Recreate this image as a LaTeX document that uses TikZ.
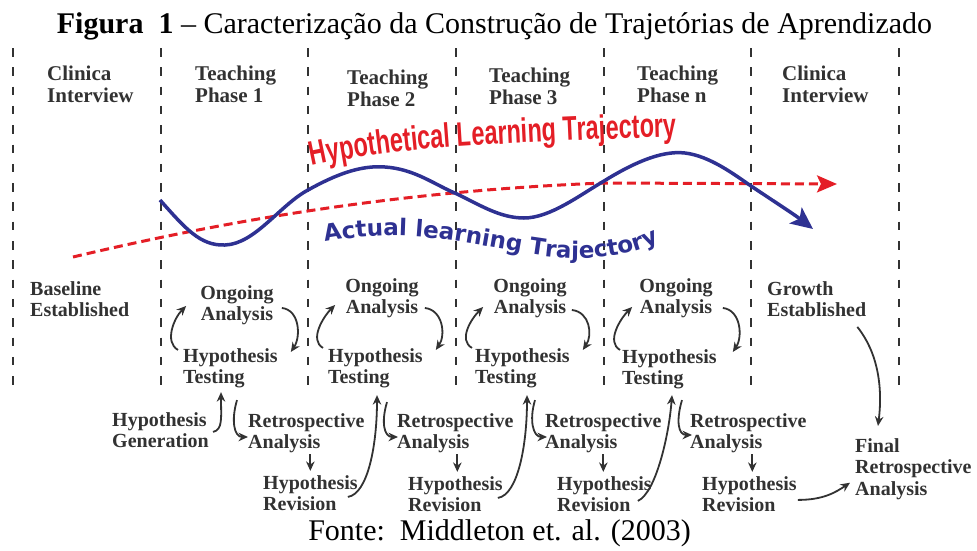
\documentclass[tikz,border=0pt]{standalone}
\usepackage{fontspec}
\setmainfont{Liberation Serif}
\newfontfamily\redfont[FakeStretch=0.69]{Liberation Sans}
\newfontfamily\bluefont{DejaVu Sans}
\usetikzlibrary{arrows.meta,decorations.text,calc}
\definecolor{tblue}{RGB}{46,49,146}
\definecolor{tred}{RGB}{228,30,38}
\definecolor{tgray}{RGB}{50,50,50}
\begin{document}
\begin{tikzpicture}[x=1pt,y=-1pt,
  vline/.style={line width=2pt, tgray, dash pattern=on 8.5pt off 10.8pt},
  head/.style={font=\fontsize{21}{22.5}\selectfont\bfseries, text=tgray, align=left, anchor=base west, inner sep=0pt},
  lbl/.style={font=\fontsize{20}{21.5}\selectfont\bfseries, text=tgray, align=left, anchor=base west, inner sep=0pt},
  lblc/.style={lbl, align=center, anchor=base},
  arr/.style={line width=1.8pt, tgray, -{Stealth[length=9.5pt,width=8.5pt]}},
  down/.style={arr, shorten <=1pt, shorten >=4pt},
]
\useasboundingbox (0,0) rectangle (977,550);

% title and source
\node[anchor=base, inner sep=0pt, font=\fontsize{30}{30}\selectfont] (title) at (494.5,33)
  {\textbf{Figura\ \ 1} – Caracterização da Construção de Trajetórias de Aprendizado};
\node[anchor=base, inner sep=0pt, font=\fontsize{30}{30}\selectfont] (fonte) at (499.5,540)
  {Fonte:\ \ Middleton et. al. (2003)};

% vertical dashed separators
\foreach \x in {13,161,308,456,604,751,899}
  \draw[vline] (\x,48) -- (\x,395);

% headers (position = baseline of last line)
\node[head] (c0) at (47,102.5) {Clinica\\Interview};
\node[head] (t1) at (195,102.5) {Teaching\\Phase 1};
\node[head] (t2) at (347,106.5) {Teaching\\Phase 2};
\node[head] (t3) at (489,104.5) {Teaching\\Phase 3};
\node[head] (tn) at (637,102.5) {Teaching\\Phase n};
\node[head] (c1) at (782,102.5) {Clinica\\Interview};

% hypothetical trajectory (red dashed)
\draw[tred, line width=3pt, dash pattern=on 9pt off 5pt,
      -{Stealth[length=20pt,width=17pt,inset=4pt]}]
  (73,257) .. controls (250,215) and (420,190) .. (604,183) -- (837,184);
% actual trajectory (blue)
\draw[tblue, line width=3.5pt, -{Stealth[length=22pt,width=20pt,inset=5pt]}]
  (160,200) .. controls (185,228) and (200,246) .. (225,245)
  .. controls (255,244) and (280,205) .. (308,190)
  .. controls (335,175) and (360,165) .. (385,167)
  .. controls (415,169) and (435,185) .. (457,194)
  .. controls (480,205) and (500,218) .. (524,218)
  .. controls (550,218) and (580,195) .. (604,181)
  .. controls (630,165) and (660,150) .. (685,153)
  .. controls (710,156) and (735,175) .. (751,186)
  .. controls (775,202) and (795,215) .. (813,229);

% curved labels
\path[decorate, decoration={text along path, text align=left,
   text={|\fontsize{34}{34}\redfont\bfseries\color{tred}|Hypothetical Learning Trajectory}}]
  (312,166) .. controls (380,151) and (450,146) .. (520,143)
  .. controls (600,139) and (650,137) .. (720,136);
\path[decorate, decoration={text along path, text align=left,
   text={|\fontsize{23}{23}\bluefont\bfseries\color{tblue}|Actual learning Trajectory}}]
  (325,242) .. controls (400,228) and (450,240) .. (530,254)
  .. controls (590,264) and (640,258) .. (690,225);

% lower labels (position = baseline of last line)
\node[lbl] (be) at (30,316.5) {Baseline\\Established};
\node[lbl] (ge) at (767,316.5) {Growth\\Established};

\node[lblc] (og1) at (237,320.5) {Ongoing\\Analysis};
\node[lbl] (ht1) at (183,383.5) {Hypothesis\\Testing};
\node[lbl] (hg) at (112,447.5) {Hypothesis\\Generation};
\node[lbl] (ra1) at (248,448.5) {Retrospective\\Analysis};
\node[lbl] (hr1) at (263,510.5) {Hypothesis\\Revision};

\node[lblc] (og2) at (382,313.5) {Ongoing\\Analysis};
\node[lbl] (ht2) at (328,383.5) {Hypothesis\\Testing};
\node[lbl] (ra2) at (397,448.5) {Retrospective\\Analysis};
\node[lbl] (hr2) at (408,511.5) {Hypothesis\\Revision};

\node[lblc] (og3) at (530,313.5) {Ongoing\\Analysis};
\node[lbl] (ht3) at (475,383.5) {Hypothesis\\Testing};
\node[lbl] (ra3) at (545,448.5) {Retrospective\\Analysis};
\node[lbl] (hr3) at (557,511.5) {Hypothesis\\Revision};

\node[lblc] (ogn) at (676,313.5) {Ongoing\\Analysis};
\node[lbl] (htn) at (622,384.5) {Hypothesis\\Testing};
\node[lbl] (ran) at (690,448.5) {Retrospective\\Analysis};
\node[lbl] (hrn) at (702,511.5) {Hypothesis\\Revision};

\node[lbl] (fr) at (855,495) {Final\\Retrospective\\Analysis};

% cycle arrows
\draw[arr] ([shift={(-5,2)}]ht1.north west) .. controls +(-14,-8) and +(-12,12) .. ([shift={(-14,1)}]og1.west);
\draw[arr] ([shift={(8,3)}]og1.east) .. controls +(18,2) and +(10,-15) .. ([shift={(13,4)}]ht1.north east);
\draw[arr] ([shift={(-5,0)}]ht2.north west) .. controls +(-14,-8) and +(-12,12) .. ([shift={(-10,7)}]og2.west);
\draw[arr] ([shift={(6,10)}]og2.east) .. controls +(18,2) and +(10,-15) .. ([shift={(13,2)}]ht2.north east);
\draw[arr] ([shift={(-3,0)}]ht3.north west) .. controls +(-14,-8) and +(-12,12) .. ([shift={(-10,9)}]og3.west);
\draw[arr] ([shift={(5,12)}]og3.east) .. controls +(18,2) and +(10,-15) .. ([shift={(13,2)}]ht3.north east);
\draw[arr] ([shift={(-2,1)}]htn.north west) .. controls +(-14,-8) and +(-12,12) .. ([shift={(-7,9)}]ogn.west);
\draw[arr] ([shift={(10,10)}]ogn.east) .. controls +(18,2) and +(10,-15) .. ([shift={(16,3)}]htn.north east);

% generation -> testing
\draw[arr] ([shift={(4,2)}]hg.east) .. controls +(10,-2) and +(0,25) .. ([shift={(38,4)}]ht1.south west);

% testing -> retrospective analysis
\draw[arr] ([shift={(54,12)}]ht1.south west) .. controls +(-6,20) and +(-14,0) .. ([shift={(0,4)}]ra1.west);
\draw[arr] ([shift={(59,14)}]ht2.south west) .. controls +(-6,20) and +(-14,0) .. ([shift={(1,4)}]ra2.west);
\draw[arr] ([shift={(60,12)}]ht3.south west) .. controls +(-6,20) and +(-14,0) .. ([shift={(2,4)}]ra3.west);
\draw[arr] ([shift={(60,11)}]htn.south west) .. controls +(-6,20) and +(-14,0) .. ([shift={(2,2)}]ran.west);

% retrospective analysis -> hypothesis revision
\draw[down] ([xshift=4pt]ra1.south) -- ([xshift=4pt]ra1.south |- hr1.north);
\draw[down] ([xshift=2pt]ra2.south) -- ([xshift=2pt]ra2.south |- hr2.north);
\draw[down] (ra3.south) -- (ra3.south |- hr3.north);
\draw[down] ([xshift=4pt]ran.south) -- ([xshift=4pt]ran.south |- hrn.north);

% revision -> next testing
\draw[arr] ([shift={(-10,4)}]hr1.east) .. controls +(20,-3) and +(0,50) .. ([shift={(49,7)}]ht2.south west);
\draw[arr] ([shift={(-5,4)}]hr2.east) .. controls +(20,-3) and +(0,50) .. ([shift={(52,7)}]ht3.south west);
\draw[arr] ([shift={(-14,7)}]hr3.east) .. controls +(18,-8) and +(-3,40) .. ([shift={(50,6)}]htn.south west);

% to final retrospective analysis
\draw[arr] ([shift={(1,6)}]hrn.east) .. controls +(25,0) and +(-15,10) .. ([shift={(-5,14)}]fr.west);
\draw[arr] ([shift={(-9,10)}]ge.south east) .. controls +(20,25) and +(5,-40) .. ([shift={(23,-12)}]fr.north west);
\end{tikzpicture}
\end{document}
